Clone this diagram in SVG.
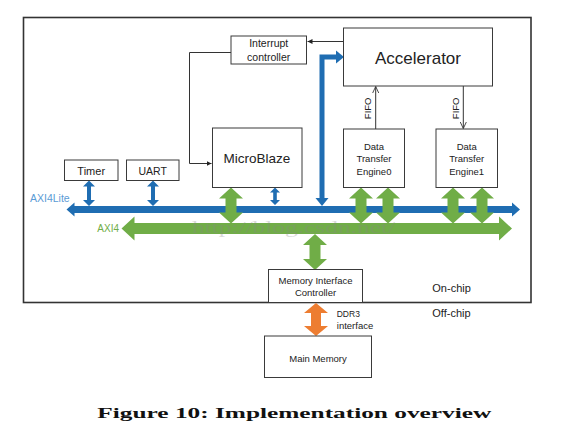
<svg xmlns="http://www.w3.org/2000/svg" width="566" height="431" viewBox="0 0 566 431">
<style>
.box{fill:#fff;stroke:#3a3a3a;stroke-width:1}
.t{font-family:"Liberation Sans",Arial,sans-serif;fill:#222;text-anchor:middle}
.thin{fill:none;stroke:#333;stroke-width:1}
.blue{fill:#1f6db2}
.green{fill:#70ad47}
</style>
<defs>
<marker id="tri" viewBox="0 0 6 6" refX="6" refY="3" markerWidth="5" markerHeight="5" markerUnits="userSpaceOnUse" orient="auto"><path d="M0,0 L6,3 L0,6 z" fill="#222"/></marker>
<marker id="open" viewBox="0 0 8 8" refX="7.5" refY="4" markerWidth="7" markerHeight="7" markerUnits="userSpaceOnUse" orient="auto"><path d="M0,0.5 L7.5,4 L0,7.5" fill="none" stroke="#333" stroke-width="1"/></marker>
<path id="gArrow" d="M0,0 L12,11 L5.5,11 L5.5,25 L12,25 L0,36 L-12,25 L-5.5,25 L-5.5,11 L-12,11 Z"/>
</defs>
<rect width="566" height="431" fill="#fff"/>
<rect id="chip" x="23.5" y="17.5" width="507.5" height="285" fill="none" stroke="#333" stroke-width="1.6"/>

<g id="connectors">
<path class="thin" d="M231,52.5 H189.5 V163.5 H211.5" marker-end="url(#tri)"/>
<path class="thin" d="M343,41.5 H307.5" marker-end="url(#tri)"/>
<path class="thin" d="M375.7,129 V86.5" marker-end="url(#open)"/>
<path class="thin" d="M463.3,86 V128.5" marker-end="url(#open)"/>
<polygon class="blue" points="66.5,209.5 74.5,202.5 74.5,206 512,206 512,202.5 520,209.5 512,216.5 512,213 74.5,213 74.5,216.5"/>
<polygon class="green" points="121.5,228.5 134.5,216.5 134.5,223 499,223 499,216.5 512,228.5 499,240.5 499,234 134.5,234 134.5,240.5"/>
<path d="M322,199 V57 H337" fill="none" stroke="#1f6db2" stroke-width="5" stroke-linejoin="miter"/>
<polygon class="blue" points="315.5,198 328.5,198 322,206"/>
<polygon class="blue" points="336,50.5 336,63.5 344,57"/>
<polygon class="blue" points="89,180.5 95,186.5 91,186.5 91,200 95,200 89,206 83,200 87,200 87,186.5 83,186.5"/>
<polygon class="blue" points="153,180.5 159,186.5 155,186.5 155,200 159,200 153,206 147,200 151,200 151,186.5 147,186.5"/>
<polygon class="blue" points="275,187.5 280,192.5 276.8,192.5 276.8,200 280,200 275,205 270,200 273.2,200 273.2,192.5 270,192.5"/>
<use href="#gArrow" class="green" transform="translate(231,187.5)"/>
<use href="#gArrow" class="green" transform="translate(361,187.5)"/>
<use href="#gArrow" class="green" transform="translate(388,187.5)"/>
<use href="#gArrow" class="green" transform="translate(453,187.5)"/>
<use href="#gArrow" class="green" transform="translate(482,187.5)"/>
<use href="#gArrow" class="green" transform="translate(315,234)"/>
<polygon fill="#ed7d31" points="316,303 328,313 321,313 321,326 328,326 316,336 304,326 311,326 311,313 304,313"/>
</g>

<text x="192" y="233" font-family="Liberation Serif,serif" font-size="16" fill="#888" opacity="0.3" textLength="203" lengthAdjust="spacingAndGlyphs">http://blog.csdn.net/</text>

<g id="interrupt">
<rect class="box" x="231" y="36" width="75.5" height="28"/>
<text class="t" x="268.7" y="47.2" font-size="10.5">Interrupt</text>
<text class="t" x="268.7" y="61" font-size="10.5">controller</text>
</g>
<g id="accelerator">
<rect class="box" x="343.5" y="28" width="149" height="58"/>
<text class="t" x="418" y="63.7" font-size="17">Accelerator</text>
</g>
<g id="microblaze">
<rect class="box" x="212.5" y="128" width="89.5" height="59.5"/>
<text class="t" x="257" y="163" font-size="13.5">MicroBlaze</text>
</g>
<g id="dte0">
<rect class="box" x="343.5" y="129" width="61" height="58.5"/>
<text class="t" x="374" y="150" font-size="9.5">Data</text>
<text class="t" x="374" y="162" font-size="9.5">Transfer</text>
<text class="t" x="374" y="174.6" font-size="9.5">Engine0</text>
</g>
<g id="dte1">
<rect class="box" x="436" y="129" width="61.5" height="58.5"/>
<text class="t" x="466.7" y="150" font-size="9.5">Data</text>
<text class="t" x="466.7" y="162" font-size="9.5">Transfer</text>
<text class="t" x="466.7" y="174.6" font-size="9.5">Engine1</text>
</g>
<g id="timer">
<rect class="box" x="64.5" y="160" width="53.5" height="20.5"/>
<text class="t" x="91.2" y="174.6" font-size="11">Timer</text>
</g>
<g id="uart">
<rect class="box" x="126.5" y="160" width="52.5" height="20.5"/>
<text class="t" x="152.7" y="174.6" font-size="10.5">UART</text>
</g>
<g id="mic">
<rect class="box" x="268.5" y="269.5" width="94" height="33"/>
<text class="t" x="315.5" y="284" font-size="9.5">Memory Interface</text>
<text class="t" x="315.5" y="296" font-size="9.5">Controller</text>
</g>
<g id="mainmem">
<rect class="box" x="264.5" y="336" width="107" height="41.5"/>
<text class="t" x="318" y="361.6" font-size="9.5">Main Memory</text>
</g>

<g id="labels">
<text class="t" x="367.3" y="108.3" font-size="9.5" transform="rotate(-90 367.3 108.3)" dy="3.3">FIFO</text>
<text class="t" x="456" y="108.3" font-size="9.5" transform="rotate(-90 456 108.3)" dy="3.3">FIFO</text>
<text x="30" y="202" font-family="Liberation Sans,Arial,sans-serif" font-size="10.5" fill="#5b9bd5">AXI4Lite</text>
<text x="97.3" y="231.8" font-family="Liberation Sans,Arial,sans-serif" font-size="10" fill="#70ad47">AXI4</text>
<text class="t" x="348.3" y="316.5" font-size="8.5">DDR3</text>
<text class="t" x="355" y="329.3" font-size="9.5">interface</text>
<text x="432.3" y="291.6" font-family="Liberation Sans,Arial,sans-serif" font-size="11" fill="#222">On-chip</text>
<text x="432.3" y="317.2" font-family="Liberation Sans,Arial,sans-serif" font-size="11" fill="#222">Off-chip</text>
<text x="97.3" y="418.3" font-family="Liberation Serif,serif" font-weight="bold" font-size="15.5" fill="#111" textLength="394" lengthAdjust="spacingAndGlyphs">Figure 10: Implementation overview</text>
</g>
</svg>
